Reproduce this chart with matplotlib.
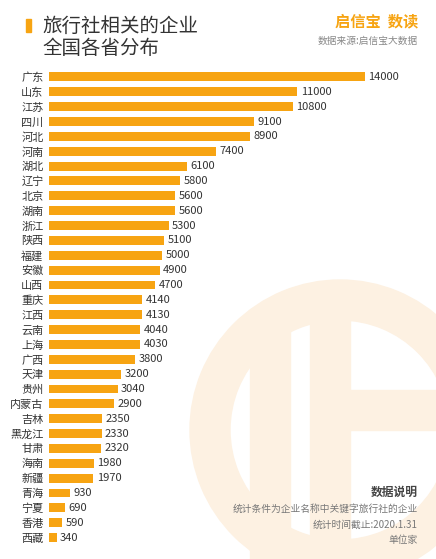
import matplotlib
matplotlib.use("Agg")
import matplotlib.pyplot as plt
from matplotlib.patches import Rectangle, Wedge, FancyBboxPatch

plt.rcParams['font.family'] = ['Noto Sans CJK SC', 'DejaVu Sans']

provinces = ["广东","山东","江苏","四川","河北","河南","湖北","辽宁","北京","湖南","浙江","陕西","福建","安徽","山西",
             "重庆","江西","云南","上海","广西","天津","贵州","内蒙古","吉林","黑龙江","甘肃","海南","新疆","青海","宁夏","香港","西藏"]
values = [14000,11000,10800,9100,8900,7400,6100,5800,5600,5600,5300,5100,5000,4900,4700,
          4140,4130,4040,4030,3800,3200,3040,2900,2350,2330,2320,1980,1970,930,690,590,340]

W, H = 436, 559
fig = plt.figure(figsize=(W/100, H/100), dpi=100)
fig.patch.set_facecolor('white')

# watermark
bg = fig.add_axes([0, 0, 1, 1], zorder=0)
bg.set_xlim(0, W); bg.set_ylim(H, 0); bg.axis('off')
wm = '#fdf1e2'
bg.add_patch(Wedge((340, 430), 150, 0, 360, width=40, color=wm))
bg.add_patch(Rectangle((250, 330), 40, 230, color=wm))
bg.add_patch(Rectangle((310, 310), 40, 250, color=wm))
bg.add_patch(Rectangle((330, 390), 110, 40, color=wm))

n = len(provinces)
top, bottom = 69.5, 545
ax = fig.add_axes([49/W, 1-bottom/H, 316/W, (bottom-top)/H], zorder=1)
ax.patch.set_alpha(0)
ys = list(range(n))
ax.barh(ys, values, height=0.6, color='#f7a412')
ax.set_xlim(0, 14000)
ax.set_ylim(n-0.5, -0.5)
ax.set_yticks(ys)
ax.set_yticklabels(provinces, fontsize=8, color='#333333')
ax.tick_params(axis='y', length=0, pad=4)
ax.set_xticks([])
for s in ax.spines.values():
    s.set_visible(False)
for y, v in zip(ys, values):
    ax.text(v + 150, y, str(v), va='center', ha='left', fontsize=8, color='#333333')

# header
fig.patches.append(Rectangle((26/W, 1-32/H), 5/W, 13/H, transform=fig.transFigure, color='#f7a412'))
fig.text(42/W, 1-26/H, "旅行社相关的企业", fontsize=14, color='#333333', va='center')
fig.text(42/W, 1-49/H, "全国各省分布", fontsize=14, color='#333333', va='center')
fig.text(418/W, 1-21/H, "启信宝  数读", fontsize=11, color='#f7a412', ha='right', va='center', fontweight='bold')
fig.text(418/W, 1-41/H, "数据来源:启信宝大数据", fontsize=7, color='#888888', ha='right', va='center')

# notes
fig.text(418/W, 1-492/H, "数据说明", fontsize=8.5, color='#444444', ha='right', va='center', fontweight='bold')
fig.text(418/W, 1-509/H, "统计条件为企业名称中关键字旅行社的企业", fontsize=7, color='#777777', ha='right', va='center')
fig.text(418/W, 1-525/H, "统计时间截止:2020.1.31", fontsize=7, color='#777777', ha='right', va='center')
fig.text(418/W, 1-540/H, "单位家", fontsize=7, color='#777777', ha='right', va='center')

fig.savefig('out.png', dpi=100)
